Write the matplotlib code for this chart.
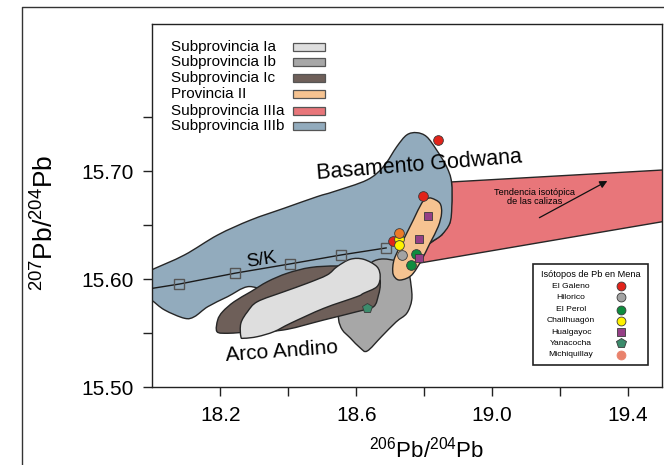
import matplotlib
matplotlib.use("Agg")
import matplotlib.pyplot as plt
import numpy as np
from matplotlib.patches import Polygon, Rectangle, PathPatch
from matplotlib.path import Path
from matplotlib.lines import Line2D

plt.rcParams['font.family'] = ['Liberation Sans', 'DejaVu Sans']
plt.rcParams['mathtext.fontset'] = 'custom'
plt.rcParams['mathtext.rm'] = 'Liberation Sans'
plt.rcParams['mathtext.default'] = 'regular'

# ---------------- data ----------------
region_names = ["Subprovincia Ia", "Subprovincia Ib", "Subprovincia Ic",
                "Provincia II", "Subprovincia IIIa", "Subprovincia IIIb"]
region_colors = ["#DEDEDE", "#A7A7A7", "#6E5F59", "#F6C391", "#E8767A", "#92ABBD"]

# Subprovincia IIIb (Basamento Godwana)
iiib_x = [17.968, 17.997, 18.0946, 18.1924, 18.2899, 18.3874, 18.4852, 18.5338, 18.6316,
          18.6802, 18.7195, 18.7488, 18.7780, 18.8073, 18.8366, 18.8659, 18.8805, 18.8814,
          18.8755, 18.8512, 18.8220, 18.7974, 18.7731, 18.7438, 18.6852, 18.6120, 18.5242,
          18.4070, 18.3388, 18.2802, 18.2217, 18.1631, 18.1239, 18.0946, 18.0360, 17.9971, 17.968]
iiib_y = [15.6040, 15.6086, 15.6225, 15.6410, 15.6549, 15.6657, 15.6765, 15.6811, 15.6919,
          15.7043, 15.7228, 15.7336, 15.7357, 15.7320, 15.7197, 15.7043, 15.6901, 15.6672,
          15.6519, 15.6410, 15.6348, 15.6302, 15.6160, 15.5994, 15.5947, 15.5947, 15.5947,
          15.5947, 15.5901, 15.5931, 15.5839, 15.5746, 15.5654, 15.5639, 15.5716, 15.5808, 15.5855]

# Subprovincia IIIa (calizas)
iiia_x = [18.8805, 19.55, 19.55, 18.7827, 18.7877, 18.8023, 18.8228, 18.8521, 18.8755, 18.8814]
iiia_y = [15.6901, 15.7020, 15.6559, 15.6148, 15.6225, 15.6299, 15.6345, 15.6410, 15.6521, 15.6734]

# Subprovincia Ic
ic_x = [18.1903, 18.1924, 18.2070, 18.2410, 18.2899, 18.3388, 18.3974, 18.4656, 18.5438, 18.6120,
        18.6647, 18.6706, 18.6656, 18.6510, 18.6023, 18.5045, 18.3974, 18.3192, 18.2606, 18.2217]
ic_y = [15.5515, 15.5623, 15.5700, 15.5793, 15.5885, 15.5978, 15.6056, 15.6109, 15.6123, 15.6105,
        15.6012, 15.5947, 15.5855, 15.5746, 15.5700, 15.5623, 15.5537, 15.5512, 15.5507, 15.5500]

# Subprovincia Ia
ia_x = [18.2606, 18.2606, 18.2802, 18.3095, 18.3874, 18.4559, 18.5145, 18.5438, 18.5827, 18.6217,
        18.6609, 18.6706, 18.6609, 18.6217, 18.6023, 18.5045, 18.4070, 18.3581, 18.3095, 18.2703]
ia_y = [15.5469, 15.5593, 15.5700, 15.5793, 15.5885, 15.5963, 15.6040, 15.6117, 15.6185, 15.6185,
        15.6117, 15.6024, 15.5931, 15.5870, 15.5839, 15.5731, 15.5593, 15.5515, 15.5469, 15.5454]

# Subprovincia Ib
ib_x = [18.5485, 18.5534, 18.5974, 18.6354, 18.6471, 18.6794, 18.7233, 18.7526, 18.7613, 18.7634,
        18.7488, 18.7174, 18.6735, 18.6325, 18.6120, 18.5827, 18.5593]
ib_y = [15.5623, 15.5716, 15.5808, 15.6086, 15.6160, 15.6188, 15.6160, 15.6068, 15.5947, 15.5808,
        15.5685, 15.5605, 15.5466, 15.5336, 15.5364, 15.5456, 15.5531]

# Provincia II
ii_x = [18.8220, 18.8463, 18.8512, 18.8413, 18.8170, 18.7927, 18.7681, 18.7488, 18.7242, 18.7095,
        18.7078, 18.7145, 18.7388, 18.7681, 18.7927, 18.8073]
ii_y = [15.6750, 15.6704, 15.6611, 15.6487, 15.6333, 15.6179, 15.6056, 15.6009, 15.5994, 15.6040,
        15.6117, 15.6209, 15.6364, 15.6549, 15.6704, 15.6744]

# Stacey-Kramers growth curve (S/K)
sk_line_x = [17.99, 18.0799, 18.2430, 18.4050, 18.5555, 18.6881]
sk_line_y = [15.5911, 15.5956, 15.6056, 15.6142, 15.6225, 15.6290]

# Ore lead isotopes
galeno_x = [18.8413, 18.7956, 18.7078]
galeno_y = [15.7290, 15.6774, 15.6357]
hilorico_x = [18.7341]
hilorico_y = [15.6225]
perol_x = [18.7760, 18.7613]
perol_y = [15.6234, 15.6130]
chail_x = [18.7271, 18.7271]
chail_y = [15.6370, 15.6318]
hual_x = [18.8102, 18.7848, 18.7848]
hual_y = [15.6589, 15.6370, 15.6194]
yana_x = [18.6316]
yana_y = [15.5731]
michi_x = [18.7271]
michi_y = [15.6431]

ore_names = ["El Galeno", "Hilorico", "El Perol", "Chailhuagón", "Hualgayoc", "Yanacocha", "Michiquillay"]
ore_colors = ["#E2231A", "#A3A3A3", "#0E8C3E", "#FFF200", "#953F86", "#3C8C6C", "#E9826C"]
ore_markers = ["o", "o", "o", "o", "s", "p", "o"]

xticks = [18.2, 18.4, 18.6, 18.8, 19.0, 19.2, 19.4]
xticklabels = ["18.2", "", "18.6", "", "19.0", "", "19.4"]
yticks = [15.50, 15.55, 15.60, 15.65, 15.70, 15.75]
yticklabels = ["15.50", "", "15.60", "", "15.70", ""]

# ---------------- figure ----------------
fig = plt.figure(figsize=(6.64, 4.65), dpi=100)
ax = fig.add_axes([0.2294, 0.1671, 0.7676, 0.7806])
ax.set_xlim(18.0, 19.5)
ax.set_ylim(15.50, 15.836)

edge = "#262626"


def smooth_region(xs, ys, color, z):
    """Closed outline through the given vertices drawn with Catmull-Rom Bezier segments
    (computed in display space so the curve keeps its shape)."""
    pts = ax.transData.transform(np.column_stack([xs, ys]))
    n = len(pts)
    verts = [pts[0]]
    codes = [Path.MOVETO]
    for i in range(n):
        p0, p1, p2, p3 = pts[i - 1], pts[i], pts[(i + 1) % n], pts[(i + 2) % n]
        c1 = p1 + (p2 - p0) / 6.0
        c2 = p2 - (p3 - p1) / 6.0
        verts += [c1, c2, p2]
        codes += [Path.CURVE4] * 3
    verts.append(pts[0])
    codes.append(Path.CLOSEPOLY)
    path = Path(ax.transData.inverted().transform(np.array(verts)), codes)
    ax.add_patch(PathPatch(path, facecolor=color, edgecolor=edge, lw=1.0, zorder=z))


def region(xs, ys, color, z):
    ax.add_patch(Polygon(list(zip(xs, ys)), closed=True, facecolor=color,
                         edgecolor=edge, lw=1.0, joinstyle='round', zorder=z))


region(iiia_x, iiia_y, region_colors[4], 1)
smooth_region(iiib_x, iiib_y, region_colors[5], 2)
smooth_region(ib_x, ib_y, region_colors[1], 3)
smooth_region(ic_x, ic_y, region_colors[2], 4)
smooth_region(ia_x, ia_y, region_colors[0], 5)
smooth_region(ii_x, ii_y, region_colors[3], 6)

# S/K curve
ax.plot(sk_line_x, sk_line_y, color="#1a1a1a", lw=1.0, zorder=7)
ax.plot(sk_line_x[1:], sk_line_y[1:], ls='none', marker='s', ms=6.8,
        mfc='none', mec='#555555', mew=1.0, zorder=8)

# ore points
pts = [(galeno_x, galeno_y, ore_colors[0], 'o', 7),
       (hilorico_x, hilorico_y, ore_colors[1], 'o', 7),
       (perol_x, perol_y, ore_colors[2], 'o', 7),
       (chail_x, chail_y, ore_colors[3], 'o', 7),
       (hual_x, hual_y, ore_colors[4], 's', 6.3),
       (yana_x, yana_y, ore_colors[5], 'p', 7.5),
       (michi_x, michi_y, "#EC7A28", 'o', 7)]
for xs, ys, c, m, s in pts:
    ax.plot(xs, ys, ls='none', marker=m, ms=s, mfc=c, mec='#3a3a3a', mew=0.6, zorder=9)

# annotations
ax.text(18.7868, 15.7058, "Basamento Godwana", fontsize=15.5, rotation=4.6,
        ha='center', va='center', zorder=10)
ax.text(18.3807, 15.5330, "Arco Andino", fontsize=15, rotation=4.1,
        ha='center', va='center', zorder=10)
ax.text(18.3221, 15.6179, "S/K", fontsize=13.5, rotation=9,
        ha='center', va='center', zorder=10)
ax.text(19.1259, 15.6762, "Tendencia isotópica\nde las calizas", fontsize=6.6,
        ha='center', va='center', linespacing=1.1, zorder=10)
ax.annotate("", xy=(19.3391, 15.6910), xytext=(19.1391, 15.6570),
            arrowprops=dict(arrowstyle='-|>', color='#111111', lw=0.9,
                            mutation_scale=11, shrinkA=0, shrinkB=0), zorder=10)

# ticks / spines
ax.set_xticks(xticks)
ax.set_xticklabels(xticklabels)
ax.set_yticks(yticks)
ax.set_yticklabels(yticklabels)
ax.tick_params(direction='out', length=6.5, width=1.0, color='#222222',
               labelsize=15, pad=7)
for sp in ax.spines.values():
    sp.set_color('#222222')
    sp.set_linewidth(1.0)

ax.text(-0.2105, 0.4526, r"$^{207}$Pb/$^{204}$Pb", transform=ax.transAxes,
        rotation=90, ha='center', va='center', fontsize=19)
ax.text(0.539, -0.1727, r"$^{206}$Pb/$^{204}$Pb", transform=ax.transAxes,
        ha='center', va='center', fontsize=16)

# legend 1 (regions)
leg_y = [0.9383, 0.8953, 0.8512, 0.8072, 0.7620, 0.7198]
for i, yy in enumerate(leg_y):
    ax.text(0.0361, yy, region_names[i], transform=ax.transAxes, fontsize=11,
            ha='left', va='center', zorder=11)
    ax.add_patch(Rectangle((0.2766, yy - 0.011), 0.0622, 0.022, transform=ax.transAxes,
                           facecolor=region_colors[i], edgecolor='#555555', lw=0.9, zorder=11))

# legend 2 (ore points)
ax.add_patch(Rectangle((0.7469, 0.0614), 0.2257, 0.2783, transform=ax.transAxes,
                       facecolor='white', edgecolor='#222222', lw=1.2, zorder=11))
ax.text(0.8597, 0.3102, "Isótopos de Pb en Mena", transform=ax.transAxes,
        fontsize=6.6, ha='center', va='center', zorder=12)
item_y = [0.2780, 0.2477, 0.2138, 0.1835, 0.1523, 0.1220, 0.0901]
for name, c, m, yy in zip(ore_names, ore_colors, ore_markers, item_y):
    ax.text(0.8215, yy, name, transform=ax.transAxes, fontsize=6.1,
            ha='center', va='center', zorder=12)
    ms = 6.0 if m == 's' else (7.0 if m == 'p' else 6.4)
    ax.plot([0.9186], [yy], transform=ax.transAxes, ls='none', marker=m, ms=ms,
            mfc=c, mec='#3a3a3a' if name != "Michiquillay" else c, mew=0.6, zorder=12)

# outer frame
fig.add_artist(Line2D([0.0327, 0.0327, 1.0], [0.0, 0.9856, 0.9856],
                      transform=fig.transFigure, color='#333333', lw=1.0))

fig.savefig("out.png", dpi=100)
